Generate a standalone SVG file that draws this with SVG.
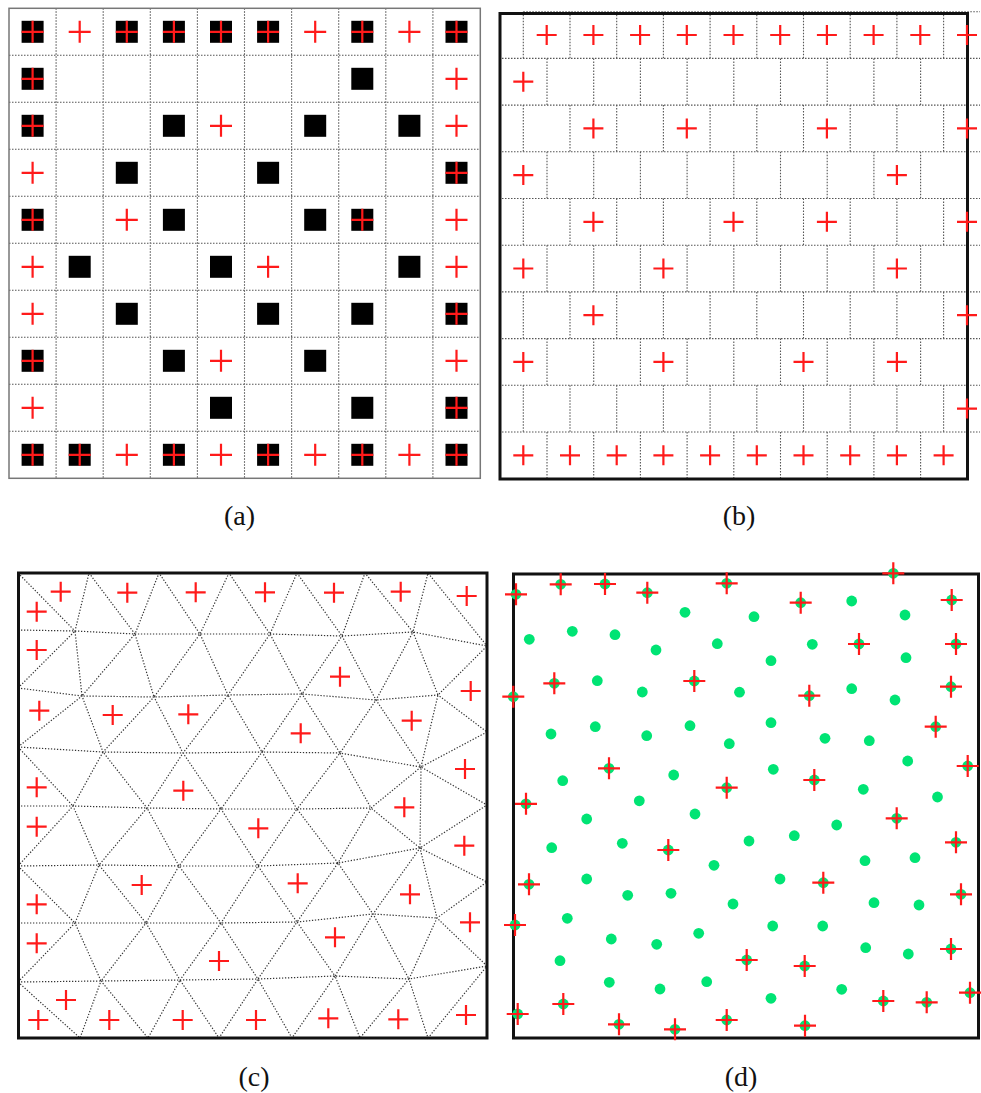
<svg xmlns="http://www.w3.org/2000/svg" width="981" height="1093" viewBox="0 0 981 1093">
<style>
.grid{fill:none;stroke:#555;stroke-width:1.1;stroke-dasharray:1.5 1.5}
.mesh{fill:none;stroke:#333;stroke-width:1.2;stroke-dasharray:1.3 1.7}
.frame{fill:none;stroke:#111;stroke-width:3}
.framea{fill:none;stroke:#777;stroke-width:1.5}
.cr{fill:none;stroke:#ff1a1a;stroke-width:2.2}
.dot{fill:#00e474}
.cap{font-family:"Liberation Serif","DejaVu Serif",serif;font-size:28px;fill:#111;text-anchor:middle}
</style>
<defs>
<rect id="sq" x="-11" y="-11" width="22" height="22" fill="#000"/>
<path id="cL" class="cr" d="M-11 0H11M0 -11V11"/>
<path id="cM" class="cr" d="M-10 0H10M0 -10V10"/>
<circle id="dt" class="dot" r="5.4"/>
</defs>
<rect width="981" height="1093" fill="#fff"/>

<g id="panel-a">
<path class="grid" d="M56.1 8.3V478.3M103.2 8.3V478.3M150.3 8.3V478.3M197.4 8.3V478.3M244.5 8.3V478.3M291.6 8.3V478.3M338.7 8.3V478.3M385.8 8.3V478.3M432.9 8.3V478.3M9 55.3H480.3M9 102.3H480.3M9 149.3H480.3M9 196.3H480.3M9 243.3H480.3M9 290.3H480.3M9 337.3H480.3M9 384.3H480.3M9 431.3H480.3"/>
<rect class="framea" x="9" y="8.3" width="471.3" height="470"/>
<g id="a-squares">
<use href="#sq" x="32.6" y="31.8"/><use href="#sq" x="126.8" y="31.8"/><use href="#sq" x="173.9" y="31.8"/><use href="#sq" x="221" y="31.8"/><use href="#sq" x="268.1" y="31.8"/><use href="#sq" x="362.3" y="31.8"/><use href="#sq" x="456.5" y="31.8"/>
<use href="#sq" x="32.6" y="78.8"/><use href="#sq" x="362.3" y="78.8"/>
<use href="#sq" x="32.6" y="125.8"/><use href="#sq" x="173.9" y="125.8"/><use href="#sq" x="315.2" y="125.8"/><use href="#sq" x="409.4" y="125.8"/>
<use href="#sq" x="126.8" y="172.8"/><use href="#sq" x="268.1" y="172.8"/><use href="#sq" x="456.5" y="172.8"/>
<use href="#sq" x="32.6" y="219.8"/><use href="#sq" x="173.9" y="219.8"/><use href="#sq" x="315.2" y="219.8"/><use href="#sq" x="362.3" y="219.8"/>
<use href="#sq" x="79.7" y="266.8"/><use href="#sq" x="221" y="266.8"/><use href="#sq" x="409.4" y="266.8"/>
<use href="#sq" x="126.8" y="313.8"/><use href="#sq" x="268.1" y="313.8"/><use href="#sq" x="362.3" y="313.8"/><use href="#sq" x="456.5" y="313.8"/>
<use href="#sq" x="32.6" y="360.8"/><use href="#sq" x="173.9" y="360.8"/><use href="#sq" x="315.2" y="360.8"/>
<use href="#sq" x="221" y="407.8"/><use href="#sq" x="362.3" y="407.8"/><use href="#sq" x="456.5" y="407.8"/>
<use href="#sq" x="32.6" y="454.8"/><use href="#sq" x="79.7" y="454.8"/><use href="#sq" x="173.9" y="454.8"/><use href="#sq" x="268.1" y="454.8"/><use href="#sq" x="362.3" y="454.8"/><use href="#sq" x="456.5" y="454.8"/>
</g>
<g id="a-crosses">
<use href="#cL" x="32.6" y="31.8"/><use href="#cL" x="79.7" y="31.8"/><use href="#cL" x="126.8" y="31.8"/><use href="#cL" x="173.9" y="31.8"/><use href="#cL" x="221" y="31.8"/><use href="#cL" x="268.1" y="31.8"/><use href="#cL" x="315.2" y="31.8"/><use href="#cL" x="362.3" y="31.8"/><use href="#cL" x="409.4" y="31.8"/><use href="#cL" x="456.5" y="31.8"/>
<use href="#cL" x="32.6" y="78.8"/><use href="#cL" x="456.5" y="78.8"/>
<use href="#cL" x="32.6" y="125.8"/><use href="#cL" x="221" y="125.8"/><use href="#cL" x="456.5" y="125.8"/>
<use href="#cL" x="32.6" y="172.8"/><use href="#cL" x="456.5" y="172.8"/>
<use href="#cL" x="32.6" y="219.8"/><use href="#cL" x="126.8" y="219.8"/><use href="#cL" x="362.3" y="219.8"/><use href="#cL" x="456.5" y="219.8"/>
<use href="#cL" x="32.6" y="266.8"/><use href="#cL" x="268.1" y="266.8"/><use href="#cL" x="456.5" y="266.8"/>
<use href="#cL" x="32.6" y="313.8"/><use href="#cL" x="456.5" y="313.8"/>
<use href="#cL" x="32.6" y="360.8"/><use href="#cL" x="221" y="360.8"/><use href="#cL" x="456.5" y="360.8"/>
<use href="#cL" x="32.6" y="407.8"/><use href="#cL" x="456.5" y="407.8"/>
<use href="#cL" x="32.6" y="454.8"/><use href="#cL" x="79.7" y="454.8"/><use href="#cL" x="126.8" y="454.8"/><use href="#cL" x="173.9" y="454.8"/><use href="#cL" x="221" y="454.8"/><use href="#cL" x="268.1" y="454.8"/><use href="#cL" x="315.2" y="454.8"/><use href="#cL" x="362.3" y="454.8"/><use href="#cL" x="409.4" y="454.8"/><use href="#cL" x="456.5" y="454.8"/>
</g>
<text class="cap" x="239.5" y="524.5">(a)</text>
</g>

<g id="panel-b">
<path class="grid" d="M523.3 11.7H980M499 58.4H980M499 105.1H980M499 151.8H980M499 198.5H980M499 245.2H980M499 291.9H980M499 338.6H980M499 385.3H980M499 432H980"/>
<path class="grid" d="M523.3 11.7V58.4M570 11.7V58.4M616.7 11.7V58.4M663.4 11.7V58.4M710.1 11.7V58.4M756.8 11.7V58.4M803.5 11.7V58.4M850.2 11.7V58.4M896.9 11.7V58.4M943.6 11.7V58.4
M523.3 105.1V151.8M570 105.1V151.8M616.7 105.1V151.8M663.4 105.1V151.8M710.1 105.1V151.8M756.8 105.1V151.8M803.5 105.1V151.8M850.2 105.1V151.8M896.9 105.1V151.8M943.6 105.1V151.8
M523.3 198.5V245.2M570 198.5V245.2M616.7 198.5V245.2M663.4 198.5V245.2M710.1 198.5V245.2M756.8 198.5V245.2M803.5 198.5V245.2M850.2 198.5V245.2M896.9 198.5V245.2M943.6 198.5V245.2
M523.3 291.9V338.6M570 291.9V338.6M616.7 291.9V338.6M663.4 291.9V338.6M710.1 291.9V338.6M756.8 291.9V338.6M803.5 291.9V338.6M850.2 291.9V338.6M896.9 291.9V338.6M943.6 291.9V338.6
M523.3 385.3V432M570 385.3V432M616.7 385.3V432M663.4 385.3V432M710.1 385.3V432M756.8 385.3V432M803.5 385.3V432M850.2 385.3V432M896.9 385.3V432M943.6 385.3V432
M547 58.4V105.1M593.7 58.4V105.1M640.4 58.4V105.1M687.1 58.4V105.1M733.8 58.4V105.1M780.5 58.4V105.1M827.2 58.4V105.1M873.9 58.4V105.1M920.6 58.4V105.1
M547 151.8V198.5M593.7 151.8V198.5M640.4 151.8V198.5M687.1 151.8V198.5M733.8 151.8V198.5M780.5 151.8V198.5M827.2 151.8V198.5M873.9 151.8V198.5M920.6 151.8V198.5
M547 245.2V291.9M593.7 245.2V291.9M640.4 245.2V291.9M687.1 245.2V291.9M733.8 245.2V291.9M780.5 245.2V291.9M827.2 245.2V291.9M873.9 245.2V291.9M920.6 245.2V291.9
M547 338.6V385.3M593.7 338.6V385.3M640.4 338.6V385.3M687.1 338.6V385.3M733.8 338.6V385.3M780.5 338.6V385.3M827.2 338.6V385.3M873.9 338.6V385.3M920.6 338.6V385.3
M547 432V478.7M593.7 432V478.7M640.4 432V478.7M687.1 432V478.7M733.8 432V478.7M780.5 432V478.7M827.2 432V478.7M873.9 432V478.7M920.6 432V478.7"/>
<rect class="frame" x="500" y="13.5" width="467.5" height="465.5"/>
<g id="b-crosses">
<use href="#cM" x="546.7" y="35"/><use href="#cM" x="593.4" y="35"/><use href="#cM" x="640.1" y="35"/><use href="#cM" x="686.8" y="35"/><use href="#cM" x="733.5" y="35"/><use href="#cM" x="780.2" y="35"/><use href="#cM" x="826.9" y="35"/><use href="#cM" x="873.6" y="35"/><use href="#cM" x="920.3" y="35"/><use href="#cM" x="967" y="35"/>
<use href="#cM" x="523.3" y="81.7"/>
<use href="#cM" x="593.4" y="128.4"/><use href="#cM" x="686.8" y="128.4"/><use href="#cM" x="826.9" y="128.4"/><use href="#cM" x="967" y="128.4"/>
<use href="#cM" x="523.3" y="175.1"/><use href="#cM" x="896.9" y="175.1"/>
<use href="#cM" x="593.4" y="221.8"/><use href="#cM" x="733.5" y="221.8"/><use href="#cM" x="826.9" y="221.8"/><use href="#cM" x="967" y="221.8"/>
<use href="#cM" x="523.3" y="268.5"/><use href="#cM" x="663.4" y="268.5"/><use href="#cM" x="896.9" y="268.5"/>
<use href="#cM" x="593.4" y="315.2"/><use href="#cM" x="967" y="315.2"/>
<use href="#cM" x="523.3" y="361.9"/><use href="#cM" x="663.4" y="361.9"/><use href="#cM" x="803.5" y="361.9"/><use href="#cM" x="896.9" y="361.9"/>
<use href="#cM" x="967" y="408.6"/>
<use href="#cM" x="523.3" y="455.3"/><use href="#cM" x="570" y="455.3"/><use href="#cM" x="616.7" y="455.3"/><use href="#cM" x="663.4" y="455.3"/><use href="#cM" x="710.1" y="455.3"/><use href="#cM" x="756.8" y="455.3"/><use href="#cM" x="803.5" y="455.3"/><use href="#cM" x="850.2" y="455.3"/><use href="#cM" x="896.9" y="455.3"/><use href="#cM" x="943.6" y="455.3"/>
</g>
<text class="cap" x="739" y="524.5">(b)</text>
</g>

<g id="panel-c">
<path class="mesh" d="M18 630L75 631L135 634L200 634L270 634L342 636L413 632L487 646
M18 688L82 696L154 697L228 695L302 694L376 700L438 695L487 732
M18 747L103 752L183 753L262 752L340 753L421 767L487 805
M18 806L73 806L147 808L221 809L297 809L371 808L420 848L487 882
M18 866L99 865L179 866L258 866L338 863L420 848
M18 923L75 923L146 923L221 923L297 922L373 914L437 918
M18 982L101 981L180 980L258 979L335 976L409 979L487 966
M18 573L75 631L89 573L135 634L159 573L200 634L229 573L270 634L297 573L342 636L365 573L413 632L428 573L487 646
M18 688L75 631L82 696L135 634L154 697L200 634L228 695L270 634L302 694L342 636L376 700L413 632L438 695L487 646
M18 747L82 696L103 752L154 697L183 753L228 695L262 752L302 694L340 753L376 700L421 767L438 695
M487 732L421 767
M18 747L73 806L103 752L147 808L183 753L221 809L262 752L297 809L340 753L371 808L421 767L420 848L487 805
M18 866L73 806L99 865L147 808L179 866L221 809L258 866L297 809L338 863L371 808
M18 866L75 923L99 865L146 923L179 866L221 923L258 866L297 922L338 863L373 914L420 848L437 918L487 882
M18 982L75 923L101 981L146 923L180 980L221 923L258 979L297 922L335 976L373 914L409 979L437 918L487 966
M18 982L80 1038L101 981L148 1038L180 980L219 1038L258 979L292 1038L335 976L360 1038L409 979L428 1038L487 966"/>
<rect class="frame" x="18.5" y="573" width="468.5" height="465"/>
<g id="c-crosses">
<use href="#cM" x="60.7" y="591.7"/><use href="#cM" x="127.3" y="592.7"/><use href="#cM" x="195.7" y="592.3"/><use href="#cM" x="265" y="592.3"/><use href="#cM" x="334" y="592.7"/><use href="#cM" x="400.7" y="591.7"/><use href="#cM" x="466.7" y="596"/>
<use href="#cM" x="36.7" y="611.7"/><use href="#cM" x="36.7" y="650"/><use href="#cM" x="340" y="676.7"/><use href="#cM" x="470.7" y="691"/>
<use href="#cM" x="39.3" y="710.7"/><use href="#cM" x="112.7" y="715"/><use href="#cM" x="188.3" y="714.3"/><use href="#cM" x="411.7" y="720.7"/><use href="#cM" x="300.7" y="733.3"/>
<use href="#cM" x="465" y="769"/><use href="#cM" x="36.7" y="787.3"/><use href="#cM" x="183.3" y="790.7"/><use href="#cM" x="404.3" y="807.3"/>
<use href="#cM" x="36.7" y="826.7"/><use href="#cM" x="258.3" y="828.3"/><use href="#cM" x="464.3" y="845.7"/>
<use href="#cM" x="141.7" y="885"/><use href="#cM" x="297.7" y="883.3"/><use href="#cM" x="410" y="894.3"/><use href="#cM" x="36.7" y="904.3"/><use href="#cM" x="470" y="922.3"/>
<use href="#cM" x="335" y="937.3"/><use href="#cM" x="36.7" y="943.3"/><use href="#cM" x="219" y="961"/><use href="#cM" x="66" y="1000"/>
<use href="#cM" x="38.3" y="1020"/><use href="#cM" x="109.3" y="1020"/><use href="#cM" x="182.7" y="1020"/><use href="#cM" x="256" y="1020"/><use href="#cM" x="328.3" y="1018.3"/><use href="#cM" x="398.3" y="1019.3"/><use href="#cM" x="466" y="1015"/>
</g>
<text class="cap" x="254" y="1085.5">(c)</text>
</g>

<g id="panel-d">
<rect class="frame" x="513.5" y="574" width="465" height="464"/>
<g id="d-dots">
<use href="#dt" x="516" y="594.3"/><use href="#dt" x="560.7" y="584.3"/><use href="#dt" x="605" y="584"/><use href="#dt" x="647.3" y="592.7"/><use href="#dt" x="726.7" y="583.3"/><use href="#dt" x="554.3" y="683.3"/><use href="#dt" x="513.3" y="696.7"/><use href="#dt" x="694.3" y="681"/><use href="#dt" x="609" y="768.3"/><use href="#dt" x="726.7" y="787.7"/><use href="#dt" x="526" y="803.8"/>
<use href="#dt" x="893.3" y="573.3"/><use href="#dt" x="800.7" y="602.7"/><use href="#dt" x="951.7" y="600"/><use href="#dt" x="859" y="644"/><use href="#dt" x="956" y="644"/><use href="#dt" x="809.3" y="695.7"/><use href="#dt" x="951" y="686.7"/><use href="#dt" x="935.7" y="726.7"/><use href="#dt" x="967.7" y="766"/><use href="#dt" x="814.3" y="780"/>
<use href="#dt" x="668.3" y="850"/><use href="#dt" x="529" y="884.3"/><use href="#dt" x="515" y="925"/><use href="#dt" x="563.3" y="1004"/><use href="#dt" x="517.7" y="1014"/><use href="#dt" x="619" y="1024.3"/><use href="#dt" x="675" y="1029.3"/><use href="#dt" x="726.7" y="1020"/>
<use href="#dt" x="896.7" y="818.3"/><use href="#dt" x="956" y="842.3"/><use href="#dt" x="823.3" y="882.7"/><use href="#dt" x="961" y="894.3"/><use href="#dt" x="746.7" y="960"/><use href="#dt" x="804.7" y="966"/><use href="#dt" x="951" y="949"/><use href="#dt" x="970" y="992.7"/><use href="#dt" x="883.3" y="1001"/><use href="#dt" x="926.7" y="1002.3"/><use href="#dt" x="805" y="1025.7"/>
<use href="#dt" x="685" y="612.3"/><use href="#dt" x="529.3" y="639.3"/><use href="#dt" x="572.3" y="631.3"/><use href="#dt" x="615" y="634.7"/><use href="#dt" x="656" y="650"/><use href="#dt" x="717.3" y="643.7"/><use href="#dt" x="597.3" y="680.7"/><use href="#dt" x="642.3" y="692"/><use href="#dt" x="739.5" y="692.2"/><use href="#dt" x="551" y="734"/><use href="#dt" x="595.3" y="726.7"/><use href="#dt" x="646.7" y="735.7"/><use href="#dt" x="690" y="725.7"/><use href="#dt" x="729.3" y="743.7"/><use href="#dt" x="562.7" y="780.7"/><use href="#dt" x="673.7" y="775"/><use href="#dt" x="639.3" y="800.8"/>
<use href="#dt" x="754" y="616.7"/><use href="#dt" x="851.7" y="601"/><use href="#dt" x="905" y="615"/><use href="#dt" x="812.3" y="644.3"/><use href="#dt" x="771" y="660.7"/><use href="#dt" x="906" y="657.7"/><use href="#dt" x="851.7" y="688.7"/><use href="#dt" x="895" y="700"/><use href="#dt" x="771" y="722.7"/><use href="#dt" x="825" y="738.3"/><use href="#dt" x="869.3" y="740.7"/><use href="#dt" x="773.3" y="769.3"/><use href="#dt" x="907.7" y="761"/><use href="#dt" x="863.3" y="789.3"/><use href="#dt" x="937.5" y="797"/>
<use href="#dt" x="695" y="814"/><use href="#dt" x="586.7" y="819"/><use href="#dt" x="551.7" y="847.7"/><use href="#dt" x="622.3" y="843.3"/><use href="#dt" x="714" y="865.3"/><use href="#dt" x="586.7" y="879"/><use href="#dt" x="627.7" y="895.3"/><use href="#dt" x="671" y="893.3"/><use href="#dt" x="733" y="904"/><use href="#dt" x="567.3" y="918.3"/><use href="#dt" x="611.3" y="939"/><use href="#dt" x="656.7" y="944.3"/><use href="#dt" x="698.7" y="933.3"/><use href="#dt" x="560" y="960.7"/><use href="#dt" x="609.3" y="982.3"/><use href="#dt" x="660" y="989"/><use href="#dt" x="706.7" y="981.7"/>
<use href="#dt" x="749" y="841"/><use href="#dt" x="794.3" y="835.7"/><use href="#dt" x="836.7" y="825"/><use href="#dt" x="865" y="860.7"/><use href="#dt" x="915" y="857.7"/><use href="#dt" x="780" y="879"/><use href="#dt" x="874" y="902.7"/><use href="#dt" x="919" y="905"/><use href="#dt" x="772.7" y="926"/><use href="#dt" x="822.7" y="926"/><use href="#dt" x="865.7" y="947.7"/><use href="#dt" x="908.3" y="954"/><use href="#dt" x="771" y="998.3"/><use href="#dt" x="841.7" y="989.3"/>
</g>
<g id="d-crosses">
<use href="#cL" x="516" y="594.3"/><use href="#cL" x="560.7" y="584.3"/><use href="#cL" x="605" y="584"/><use href="#cL" x="647.3" y="592.7"/><use href="#cL" x="726.7" y="583.3"/><use href="#cL" x="554.3" y="683.3"/><use href="#cL" x="513.3" y="696.7"/><use href="#cL" x="694.3" y="681"/><use href="#cL" x="609" y="768.3"/><use href="#cL" x="726.7" y="787.7"/><use href="#cL" x="526" y="803.8"/>
<use href="#cL" x="893.3" y="573.3"/><use href="#cL" x="800.7" y="602.7"/><use href="#cL" x="951.7" y="600"/><use href="#cL" x="859" y="644"/><use href="#cL" x="956" y="644"/><use href="#cL" x="809.3" y="695.7"/><use href="#cL" x="951" y="686.7"/><use href="#cL" x="935.7" y="726.7"/><use href="#cL" x="967.7" y="766"/><use href="#cL" x="814.3" y="780"/>
<use href="#cL" x="668.3" y="850"/><use href="#cL" x="529" y="884.3"/><use href="#cL" x="515" y="925"/><use href="#cL" x="563.3" y="1004"/><use href="#cL" x="517.7" y="1014"/><use href="#cL" x="619" y="1024.3"/><use href="#cL" x="675" y="1029.3"/><use href="#cL" x="726.7" y="1020"/>
<use href="#cL" x="896.7" y="818.3"/><use href="#cL" x="956" y="842.3"/><use href="#cL" x="823.3" y="882.7"/><use href="#cL" x="961" y="894.3"/><use href="#cL" x="746.7" y="960"/><use href="#cL" x="804.7" y="966"/><use href="#cL" x="951" y="949"/><use href="#cL" x="970" y="992.7"/><use href="#cL" x="883.3" y="1001"/><use href="#cL" x="926.7" y="1002.3"/><use href="#cL" x="805" y="1025.7"/>
</g>
<text class="cap" x="741" y="1085.5">(d)</text>
</g>
</svg>
